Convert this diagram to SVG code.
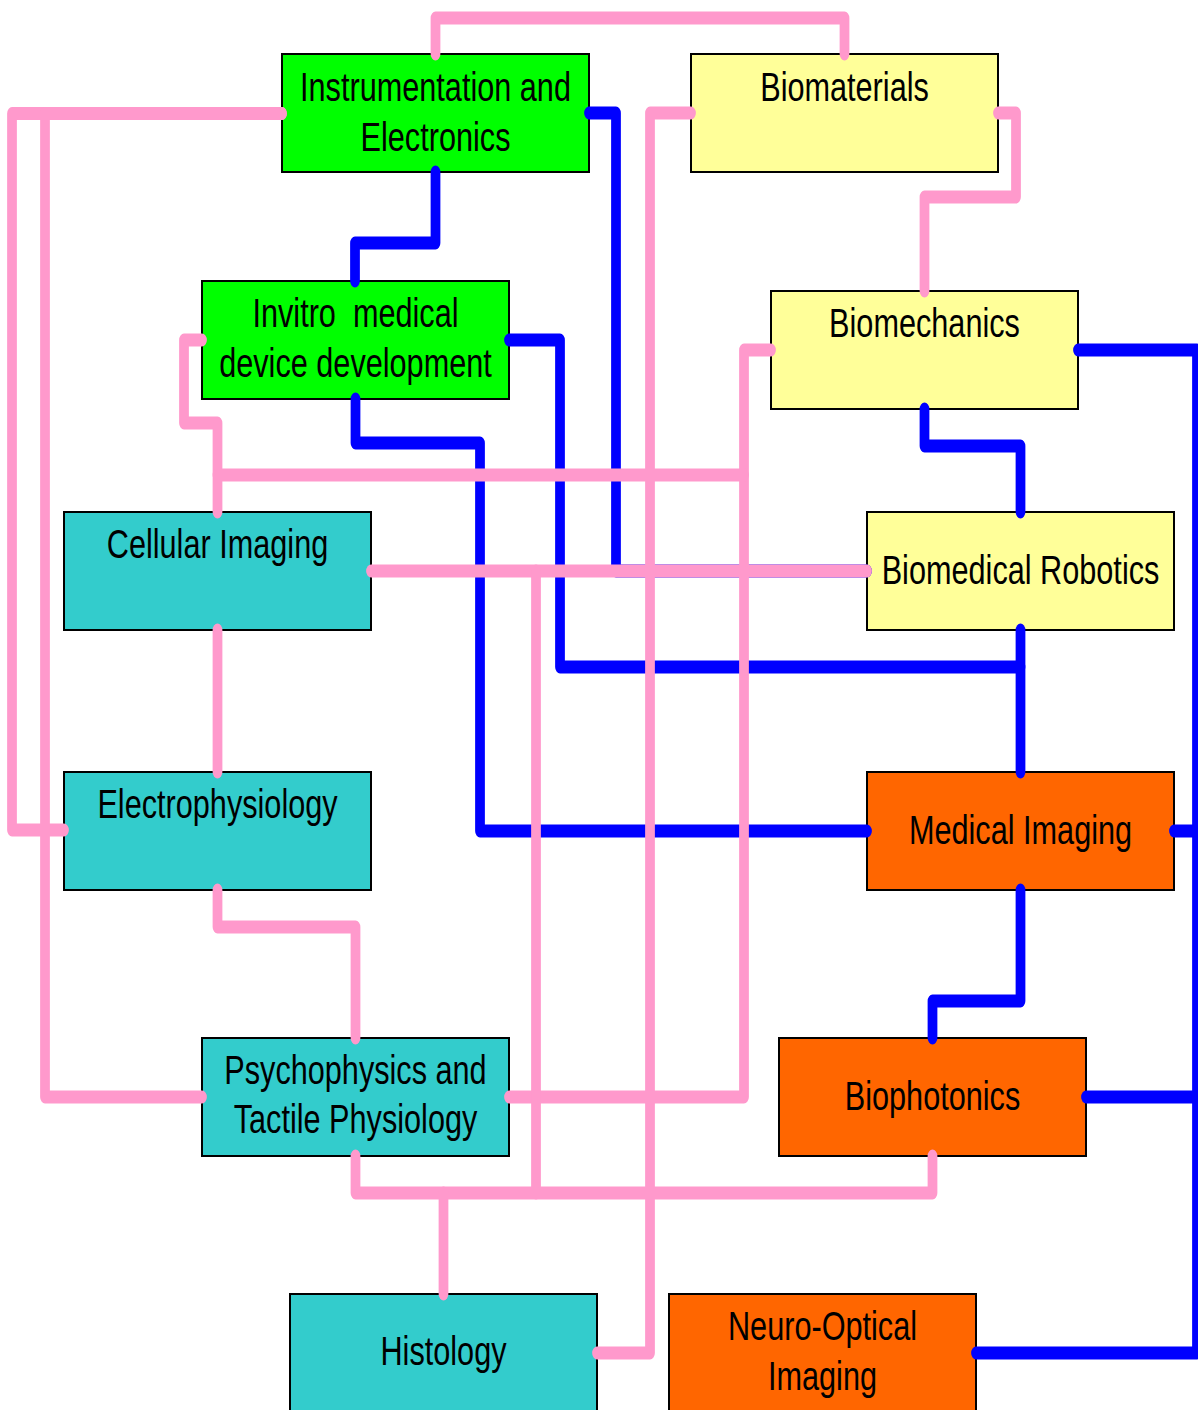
<svg xmlns="http://www.w3.org/2000/svg" width="1198" height="1410" viewBox="0 0 1198 1410">
<style>
.box{stroke:#000;stroke-width:2}
.g{fill:#00FF00}.y{fill:#FFFF99}.t{fill:#33CCCC}.o{fill:#FF6600}
.lbl{font-family:"Liberation Sans",Arial,sans-serif;font-size:40.5px;fill:#000;text-anchor:middle}
.c path{fill:none;stroke-width:13;stroke-linecap:round;stroke-linejoin:round}
.blue path{stroke:#0000FF}
.pink path{stroke:#FF99CC}
</style>
<rect width="1198" height="1410" fill="#fff"/>
<g id="instrumentation">
<rect class="box g" x="282" y="54" width="307" height="118"/>
<text class="lbl" transform="translate(435.5,100.7) scale(0.757,1)"><tspan x="0" y="0">Instrumentation and</tspan><tspan x="0" y="50">Electronics</tspan></text>
</g>
<g id="biomaterials">
<rect class="box y" x="691" y="54" width="307" height="118"/>
<text class="lbl" transform="translate(844.5,100.5) scale(0.757,1)">Biomaterials</text>
</g>
<g id="invitro">
<rect class="box g" x="202" y="281" width="307" height="118"/>
<text class="lbl" xml:space="preserve" transform="translate(355.5,326.7) scale(0.757,1)"><tspan x="0" y="0">Invitro  medical</tspan><tspan x="0" y="50">device development</tspan></text>
</g>
<g id="biomechanics">
<rect class="box y" x="771" y="291" width="307" height="118"/>
<text class="lbl" transform="translate(924.5,337) scale(0.757,1)">Biomechanics</text>
</g>
<g id="cellular">
<rect class="box t" x="64" y="512" width="307" height="118"/>
<text class="lbl" transform="translate(217.5,558.3) scale(0.757,1)">Cellular Imaging</text>
</g>
<g id="robotics">
<rect class="box y" x="867" y="512" width="307" height="118"/>
<text class="lbl" transform="translate(1020.5,583.5) scale(0.757,1)">Biomedical Robotics</text>
</g>
<g id="electrophysiology">
<rect class="box t" x="64" y="772" width="307" height="118"/>
<text class="lbl" transform="translate(217.5,818.3) scale(0.757,1)">Electrophysiology</text>
</g>
<g id="medicalimaging">
<rect class="box o" x="867" y="772" width="307" height="118"/>
<text class="lbl" transform="translate(1020.5,843.5) scale(0.757,1)">Medical Imaging</text>
</g>
<g id="psychophysics">
<rect class="box t" x="202" y="1038" width="307" height="118"/>
<text class="lbl" transform="translate(355.5,1084.3) scale(0.757,1)"><tspan x="0" y="0">Psychophysics and</tspan><tspan x="0" y="49">Tactile Physiology</tspan></text>
</g>
<g id="biophotonics">
<rect class="box o" x="779" y="1038" width="307" height="118"/>
<text class="lbl" transform="translate(932.5,1109.5) scale(0.757,1)">Biophotonics</text>
</g>
<g id="histology">
<rect class="box t" x="290" y="1294" width="307" height="118"/>
<text class="lbl" transform="translate(443.5,1365) scale(0.757,1)">Histology</text>
</g>
<g id="neurooptical">
<rect class="box o" x="669" y="1294" width="307" height="118"/>
<text class="lbl" transform="translate(822.5,1340) scale(0.757,1)"><tspan x="0" y="0">Neuro-Optical</tspan><tspan x="0" y="50">Imaging</tspan></text>
</g>
<g id="connectors" class="c" transform="scale(0.75,1)">
<g class="blue">
<path d="M580.67,172 V243 H473.33 V281"/>
<path d="M785.33,113 H821.33 V571 H1156"/>
<path d="M678.67,340 H746.67 V667 H1360.67"/>
<path d="M1360.67,630 V772"/>
<path d="M474,399 V443 H640 V831 H1156"/>
<path d="M1232.67,409 V446 H1360.67 V512"/>
<path d="M1437.33,350 H1596 V1353 H1301.33"/>
<path d="M1565.33,831 H1596"/>
<path d="M1448,1097 H1596"/>
<path d="M1360.67,890 V1001 H1243.33 V1038"/>
</g>
<g class="pink">
<path d="M580.67,54 V18 H1126 V54"/>
<path d="M376,113.5 H16 V830 H85.33"/>
<path d="M376,113.5 H60 V1097 H269.33"/>
<path d="M921.33,113 H866.67 V1353 H796"/>
<path d="M1330.67,113 H1354.67 V197 H1232.67 V291"/>
<path d="M1028,350 H992 V1097 H678.67"/>
<path d="M269.33,340 H245.33 V423 H290 V512"/>
<path d="M290,475 H992"/>
<path d="M494.67,571 H1156"/>
<path d="M714.67,571 V1193"/>
<path d="M474,1156 V1193 H1243.33 V1156"/>
<path d="M591.33,1294 V1193"/>
<path d="M290,630 V772"/>
<path d="M290,890 V927 H474 V1038"/>
</g>
</g>
</svg>
